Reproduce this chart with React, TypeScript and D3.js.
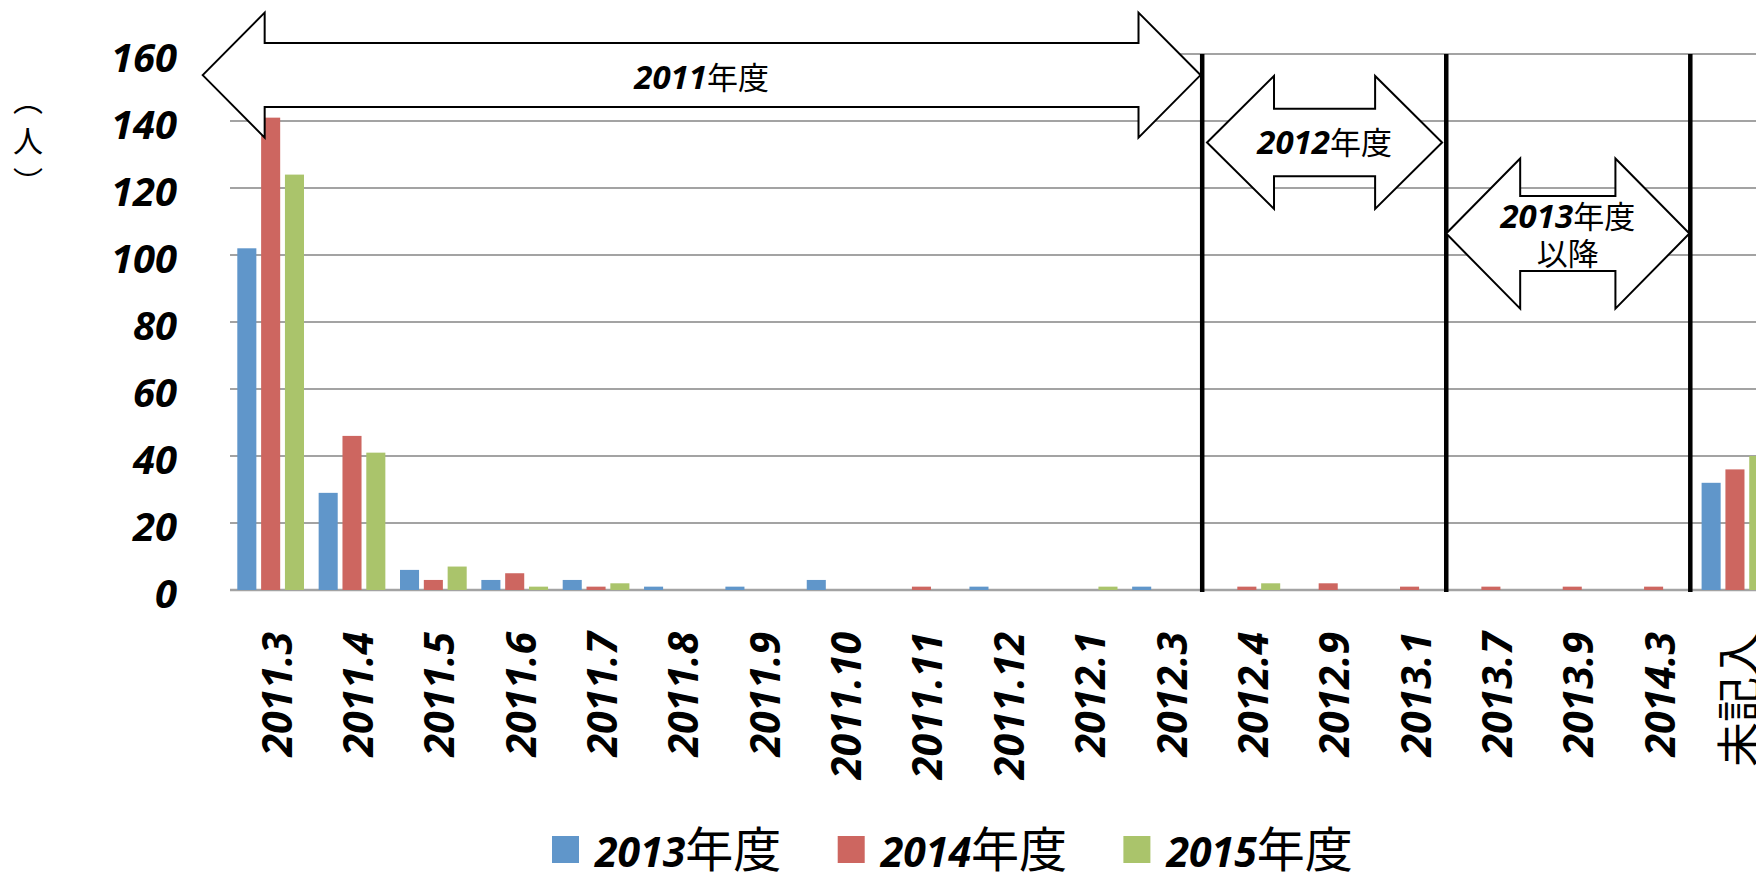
import React, { useEffect } from 'react';
import * as d3 from 'd3';

const categories = [
  '2011.3', '2011.4', '2011.5', '2011.6', '2011.7', '2011.8', '2011.9', '2011.10',
  '2011.11', '2011.12', '2012.1', '2012.3', '2012.4', '2012.9', '2013.1',
  '2013.7', '2013.9', '2014.3', '未記入',
];
const seriesNames = ['2013', '2014', '2015'];
const values2013 = [102, 29, 6, 3, 3, 1, 1, 3, 0, 1, 0, 1, 0, 0, 0, 0, 0, 0, 32];
const values2014 = [141, 46, 3, 5, 1, 0, 0, 0, 1, 0, 0, 0, 1, 2, 1, 1, 1, 1, 36];
const values2015 = [124, 41, 7, 1, 2, 0, 0, 0, 0, 0, 1, 0, 2, 0, 0, 0, 0, 0, 40];
const seriesValues = [values2013, values2014, values2015];
const colors = ['#6096ca', '#cd6660', '#aac46b'];

// period arrows: category index span, centre value, half heights in data units
const periodLabels = ['2011', '2012', '2013'];
const periodSubLabels = ['', '', '以降'];
const periodFrom = [-0.336, 12.01, 14.95];
const periodTo = [11.93, 14.9, 17.94];
const periodCenter = [153.7, 133.6, 106.4];
const periodHead = [18.66, 19.85, 22.4];
const periodShaft = [9.55, 10.06, 11.2];
const separators = [12, 15, 18];

// （人） set vertically
const yTitle = ['︵', '人', '︶'];

const W = 1756;
const H = 873;
const left = 230;
const step = 81.35;
const yTop = 54;
const yBase = 590;

const digitFont = "'Open Sans', 'DejaVu Sans', sans-serif";
const narrowFont = "'Liberation Sans Narrow', 'Open Sans', sans-serif";
const cjkFont = "'Noto Sans CJK JP', sans-serif";

function arrowPath(x0: number, x1: number, yc: number, hh: number, sh: number, hl: number) {
  return `M${x0},${yc} L${x0 + hl},${yc - hh} L${x0 + hl},${yc - sh} L${x1 - hl},${yc - sh} ` +
    `L${x1 - hl},${yc - hh} L${x1},${yc} L${x1 - hl},${yc + hh} L${x1 - hl},${yc + sh} ` +
    `L${x0 + hl},${yc + sh} L${x0 + hl},${yc + hh} Z`;
}

const App: React.FC = () => {
  useEffect(() => {
    document.body.style.margin = '0';
  }, []);

  const x = d3.scaleBand<string>().domain(categories).range([left, left + categories.length * step]);
  const xs = d3.scaleBand<string>().domain(seriesNames).range([7.3, 74]).paddingInner(0.2);
  const y = d3.scaleLinear().domain([0, 160]).range([yBase, yTop]);
  const pos = (i: number) => x.range()[0] + i * x.step();
  const ticks = y.ticks(8);

  return (
    <svg width={W} height={H} style={{ position: 'absolute', left: 0, top: 0, display: 'block' }}>
      <rect width={W} height={H} fill="#fff" />

      {/* grid */}
      {ticks.map(t => (
        <line key={t} x1={left} x2={W} y1={y(t)} y2={y(t)}
          stroke="#a3a3a3" strokeWidth={t === 0 ? 2.6 : 2} />
      ))}

      {/* y tick labels */}
      {ticks.map(t => (
        <text key={'l' + t} x={177} y={y(t) + 18} textAnchor="end"
          fontFamily={digitFont} fontWeight="bold" fontStyle="italic" fontSize={40}>{t}</text>
      ))}

      {/* y title */}
      {yTitle.map((ch, i) => (
        <text key={'t' + i} x={28} y={98 + i * 41} textAnchor="middle" dominantBaseline="central"
          fontFamily={cjkFont} fontSize={30}>{ch}</text>
      ))}

      {/* bars */}
      {seriesNames.map((s, si) => (
        <g key={s} fill={colors[si]}>
          {categories.map((c, ci) => {
            const v = seriesValues[si][ci];
            if (!v) return null;
            return (
              <rect key={c} x={(x(c) ?? 0) + (xs(s) ?? 0)} width={xs.bandwidth()}
                y={y(v)} height={y(0) - y(v)} />
            );
          })}
        </g>
      ))}

      {/* separators */}
      {separators.map(b => (
        <line key={b} x1={pos(b) - 4} x2={pos(b) - 4} y1={y(160)} y2={y(0) + 2}
          stroke="#000" strokeWidth={4.5} />
      ))}

      {/* period arrows */}
      {periodLabels.map((p, i) => {
        const x0 = pos(periodFrom[i]);
        const x1 = pos(periodTo[i]);
        const yc = y(periodCenter[i]);
        const hh = y(0) - y(periodHead[i]);
        const sh = y(0) - y(periodShaft[i]);
        const hl = i === 0 ? 62 : i === 1 ? 67 : 74;
        const cx = (x0 + x1) / 2;
        const two = periodSubLabels[i] !== '';
        return (
          <g key={p}>
            <path d={arrowPath(x0, x1, yc, hh, sh, hl)} fill="#fff" stroke="#000" strokeWidth={2} />
            <text x={cx} y={two ? yc - 6 : yc + (i === 0 ? 14 : 11.5)} textAnchor="middle">
              <tspan fontFamily={narrowFont} fontWeight="bold" fontStyle="italic" fontSize={33}>{p}</tspan>
              <tspan fontFamily={cjkFont} fontSize={31}>年度</tspan>
            </text>
            {two && (
              <text x={cx} y={yc + 31} textAnchor="middle" fontFamily={cjkFont} fontSize={31}>
                {periodSubLabels[i]}
              </text>
            )}
          </g>
        );
      })}

      {/* x labels */}
      {categories.map(c => {
        const cx = (x(c) ?? 0) + x.bandwidth() / 2 + 21;
        const cjk = /[^\x00-\x7f]/.test(c);
        return (
          <text key={c} transform={`translate(${cx},632) rotate(-90)`} textAnchor="end"
            fontFamily={cjk ? cjkFont : digitFont} fontWeight={cjk ? 'normal' : 'bold'}
            fontStyle={cjk ? 'normal' : 'italic'} fontSize={cjk ? 45 : 41}>{c}</text>
        );
      })}

      {/* legend */}
      {seriesNames.map((s, i) => {
        const lx = 552 + i * 285.7;
        return (
          <g key={'lg' + s}>
            <rect x={lx} y={836} width={27} height={27} fill={colors[i]} />
            <text x={lx + 43} y={867}>
              <tspan fontFamily={digitFont} fontWeight="bold" fontStyle="italic" fontSize={41}>{s}</tspan>
              <tspan fontFamily={cjkFont} fontSize={48}>年度</tspan>
            </text>
          </g>
        );
      })}
    </svg>
  );
};

export default App;
